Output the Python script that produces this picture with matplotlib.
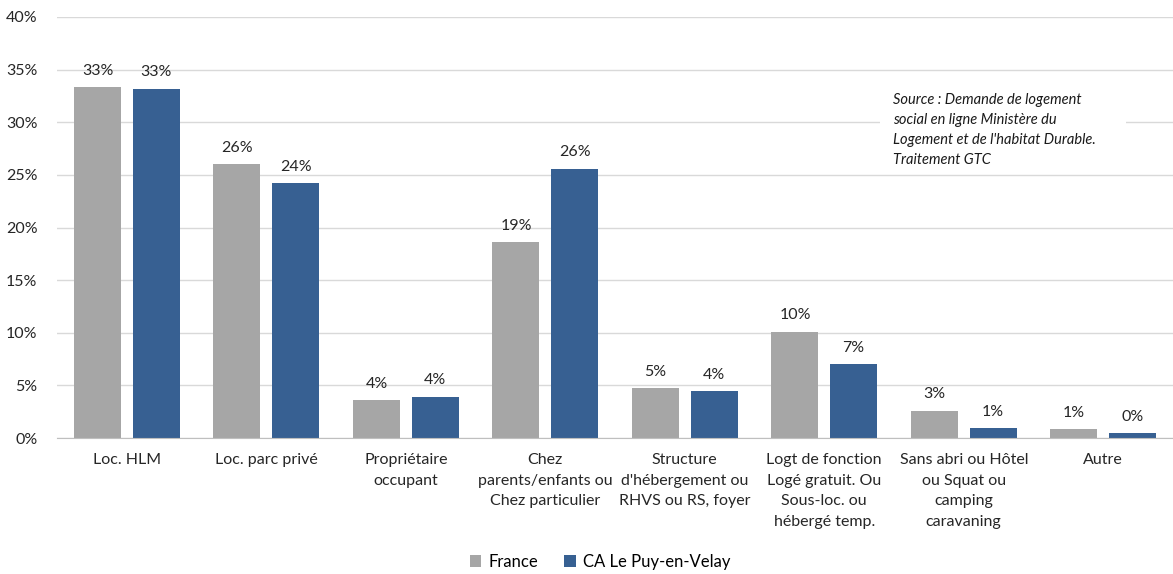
#!/usr/bin/env python3
import numpy as np
import matplotlib
matplotlib.use("Agg")
import matplotlib.pyplot as plt
from matplotlib.patches import Rectangle
from matplotlib.ticker import FuncFormatter

categories = [
    "Loc. HLM",
    "Loc. parc privé",
    "Propriétaire\noccupant",
    "Chez\nparents/enfants ou\nChez particulier",
    "Structure\nd'hébergement ou\nRHVS ou RS, foyer",
    "Logt de fonction\nLogé gratuit. Ou\nSous-loc. ou\nhébergé temp.",
    "Sans abri ou Hôtel\nou Squat ou\ncamping\ncaravaning",
    "Autre",
]
france = [33.35, 26.0, 3.6, 18.6, 4.75, 10.1, 2.6, 0.85]
ca_puy = [33.2, 24.2, 3.9, 25.6, 4.45, 7.0, 0.95, 0.45]
series_names = ["France", "CA Le Puy-en-Velay"]
source_text = ("Source : Demande de logement\nsocial en ligne Ministère du\n"
               "Logement et de l'habitat Durable.\nTraitement GTC")

plt.rcParams['font.family'] = ['Lato', 'DejaVu Sans']

fig = plt.figure(figsize=(11.73, 5.74), dpi=100)
ax = fig.add_axes([57/1173, 1 - 438/574, 1116/1173, 421/574])

x = np.arange(len(categories))
w = 0.337
off = 0.21
b1 = ax.bar(x - off, france, w, color='#a6a6a6', label=series_names[0], zorder=2)
b2 = ax.bar(x + off, ca_puy, w, color='#376092', label=series_names[1], zorder=2)

for bars in (b1, b2):
    for r in bars:
        v = r.get_height()
        ax.text(r.get_x() + r.get_width()/2, v + 0.9, f"{v:.0f}%",
                ha='center', va='bottom', fontsize=11.5, color='#262626')

ax.set_xlim(-0.5, len(categories) - 0.5)
ax.set_ylim(0, 40)
ax.set_yticks(np.arange(0, 41, 5))
ax.yaxis.set_major_formatter(FuncFormatter(lambda v, p: f"{v:.0f}%"))
ax.grid(axis='y', color='#d9d9d9', linewidth=1, zorder=0)
ax.set_axisbelow(True)
for s in ['top', 'right', 'left']:
    ax.spines[s].set_visible(False)
ax.spines['bottom'].set_color('#bfbfbf')
ax.tick_params(axis='both', length=0, labelsize=11.5, colors='#262626')
ax.tick_params(axis='y', pad=14)
ax.set_xticks(x)
ax.set_xticklabels(categories, linespacing=1.6)
ax.tick_params(axis='x', pad=11)

# white box behind the source note (hides the gridline like the text frame does)
fig.patches.append(Rectangle((880/1173, 1 - 168/574), 246/1173, 78/574,
                             transform=fig.transFigure, facecolor='white',
                             edgecolor='none', zorder=3))
fig.text(893/1173, 1 - 130/574, source_text,
         ha='left', va='center', fontsize=10.5, style='italic', linespacing=1.55,
         color='#1a1a1a', zorder=4)

fig.legend(handles=[b1, b2], labels=series_names, loc='center',
           bbox_to_anchor=(600/1173, 1 - 562/574), ncol=2, frameon=False,
           fontsize=12, handlelength=0.7, handleheight=0.7,
           columnspacing=1.6, handletextpad=0.4)

fig.savefig("out.png", dpi=100)
